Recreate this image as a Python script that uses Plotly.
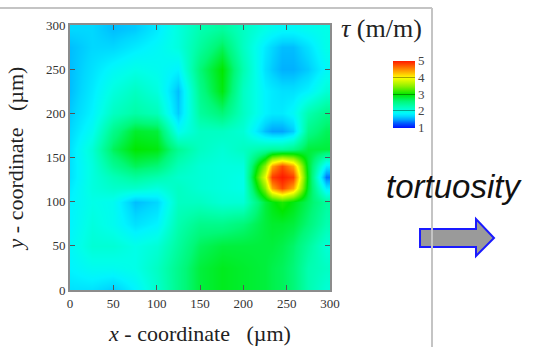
import plotly.graph_objects as go

# Sample positions of the tortuosity map (µm)
x_um = [0, 25, 50, 75, 100, 125, 150, 175, 200, 225, 233, 245, 257, 275, 295]
y_um = [0, 25, 50, 75, 100, 116, 128, 140, 160, 180, 200, 225, 250, 275, 295]

# Tortuosity tau (m/m), one row per y position (bottom to top)
tau_y0 = [1.75, 1.75, 1.65, 1.85, 2.15, 2.50, 2.80, 2.90, 2.85, 2.80, 2.75, 2.70, 2.60, 2.30, 2.10]
tau_y25 = [1.85, 1.95, 1.95, 2.00, 2.20, 2.50, 2.80, 2.90, 2.85, 2.80, 2.75, 2.70, 2.60, 2.30, 2.20]
tau_y50 = [1.90, 2.10, 2.10, 2.00, 2.10, 2.40, 2.70, 2.80, 2.80, 2.80, 2.80, 2.75, 2.65, 2.40, 2.10]
tau_y75 = [1.85, 2.05, 1.95, 1.75, 1.85, 2.30, 2.50, 2.50, 2.60, 2.80, 2.85, 2.85, 2.80, 2.60, 2.30]
tau_y100 = [1.85, 2.00, 1.95, 1.60, 1.70, 2.20, 2.20, 2.10, 2.10, 2.80, 2.95, 3.10, 2.95, 2.70, 2.40]
tau_y116 = [1.80, 2.05, 2.15, 2.15, 2.05, 2.20, 2.10, 2.05, 2.00, 3.50, 4.40, 4.80, 4.40, 2.85, 1.80]
tau_y128 = [1.75, 2.05, 2.25, 2.40, 2.30, 2.15, 2.10, 2.05, 2.00, 3.90, 4.85, 5.00, 4.85, 2.90, 1.35]
tau_y140 = [1.75, 2.05, 2.45, 2.70, 2.60, 2.25, 2.10, 2.05, 2.05, 3.50, 4.40, 4.80, 4.40, 2.85, 1.80]
tau_y160 = [1.75, 2.10, 2.70, 3.00, 2.95, 2.45, 2.20, 2.10, 2.20, 2.35, 2.40, 2.40, 2.50, 2.80, 2.80]
tau_y180 = [1.70, 1.95, 2.50, 2.85, 2.80, 1.95, 2.20, 2.20, 2.10, 1.60, 1.50, 1.50, 1.65, 2.50, 2.70]
tau_y200 = [1.65, 1.85, 2.20, 2.35, 2.25, 1.65, 2.40, 2.60, 2.20, 1.85, 1.80, 1.80, 1.90, 2.30, 2.50]
tau_y225 = [1.60, 1.80, 2.05, 2.20, 2.05, 1.60, 2.50, 2.95, 2.20, 1.85, 1.80, 1.75, 1.75, 1.85, 2.10]
tau_y250 = [1.60, 1.75, 1.90, 2.00, 1.95, 1.85, 2.60, 3.00, 2.30, 1.75, 1.65, 1.55, 1.55, 1.65, 1.90]
tau_y275 = [1.60, 1.70, 1.70, 1.80, 1.90, 2.05, 2.40, 2.70, 2.20, 1.80, 1.70, 1.60, 1.60, 1.75, 2.00]
tau_y295 = [1.70, 1.70, 1.60, 1.65, 1.80, 2.05, 2.30, 2.40, 2.20, 2.00, 1.95, 1.90, 1.90, 1.95, 2.00]

tau = [tau_y0, tau_y25, tau_y50, tau_y75, tau_y100, tau_y116, tau_y128, tau_y140,
       tau_y160, tau_y180, tau_y200, tau_y225, tau_y250, tau_y275, tau_y295]

axis_ticks = [0, 50, 100, 150, 200, 250, 300]
tau_ticks = [1, 2, 3, 4, 5]

# Figure geometry (pixels)
W, H = 533, 347
L, R, T, B = 70, 330, 25, 290


def px(xp):
    return (xp - L) / (R - L)


def py(yp):
    return (B - yp) / (B - T)


jet = [
    [0.000, "#0010ff"],
    [0.075, "#0060ff"],
    [0.125, "#00a4ff"],
    [0.175, "#00d8ff"],
    [0.212, "#00f4ff"],
    [0.250, "#00ffe8"],
    [0.325, "#00ffb0"],
    [0.400, "#00f878"],
    [0.500, "#00e800"],
    [0.625, "#90f000"],
    [0.750, "#ffff00"],
    [0.875, "#ff8c00"],
    [1.000, "#ff1a00"],
]

serif = "Liberation Serif, Times New Roman, serif"

fig = go.Figure(
    go.Heatmap(
        x=x_um,
        y=y_um,
        z=tau,
        zmin=1,
        zmax=5,
        zsmooth="best",
        colorscale=jet,
        hoverinfo="skip",
        colorbar=dict(
            x=px(383),
            xanchor="left",
            y=py(94),
            yanchor="middle",
            thickness=22,
            thicknessmode="pixels",
            len=87,
            lenmode="pixels",
            ypad=10,
            outlinewidth=0,
            tickvals=tau_ticks,
            ticks="inside",
            ticklen=22,
            tickcolor="rgba(0,0,0,0.35)",
            tickwidth=1,
            tickfont=dict(family=serif, size=13, color="#444"),
        ),
    )
)

axis_common = dict(
    range=[0, 300],
    tickvals=axis_ticks,
    ticks="inside",
    ticklen=5,
    tickwidth=1,
    tickcolor="#555",
    showline=True,
    linecolor="#8c8c8c",
    linewidth=2,
    mirror="ticks",
    showgrid=False,
    zeroline=False,
    automargin=False,
    tickfont=dict(family=serif, size=13, color="#333"),
)

fig.update_xaxes(
    **axis_common,
    title=dict(
        text="<i>x</i> - coordinate &nbsp;&nbsp;(µm)",
        font=dict(family=serif, size=22, color="#222"),
        standoff=16,
    ),
)
fig.update_yaxes(
    **axis_common,
    title=dict(
        text="<i>y</i> - coordinate &nbsp;&nbsp;(µm)",
        font=dict(family=serif, size=22, color="#222"),
        standoff=16,
    ),
)

# Colour bar heading
fig.add_annotation(
    x=px(381), y=py(28), xref="paper", yref="paper",
    text="<i>τ</i> (m/m)", showarrow=False,
    font=dict(family=serif, size=26, color="#222"),
    xanchor="center", yanchor="middle",
)

# Side label and arrow
fig.add_annotation(
    x=px(454), y=py(186), xref="paper", yref="paper",
    text="<i>tortuosity</i>", showarrow=False,
    font=dict(family="Liberation Sans, Arial, sans-serif", size=33, color="#111"),
    xanchor="center", yanchor="middle",
)

arrow_pts = [(420, 229), (476, 229), (476, 219), (494, 238), (476, 256), (476, 247), (420, 247)]
path = "M " + " L ".join(f"{px(a):.4f},{py(b):.4f}" for a, b in arrow_pts) + " Z"
fig.add_shape(type="path", path=path, xref="paper", yref="paper",
              fillcolor="#9a9a9a", line=dict(color="#1a1aff", width=2))

# Panel border lines
fig.add_shape(type="line", xref="paper", yref="paper",
              x0=px(-5), y0=py(8), x1=px(432), y1=py(8),
              line=dict(color="#c4c4c4", width=2))
fig.add_shape(type="line", xref="paper", yref="paper",
              x0=px(432), y0=py(8), x1=px(432), y1=py(352),
              line=dict(color="#c4c4c4", width=2))

fig.update_layout(
    width=W,
    height=H,
    autosize=False,
    margin=dict(l=L, r=W - R, t=T, b=H - B, pad=0, autoexpand=False),
    paper_bgcolor="white",
    plot_bgcolor="white",
)

fig.write_html("out.html")
